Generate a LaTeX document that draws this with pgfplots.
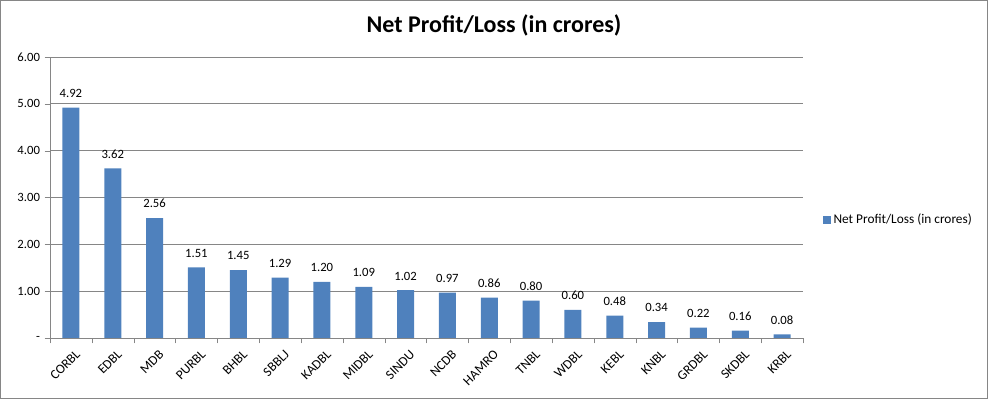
\documentclass[border=0pt]{standalone}
\usepackage{pgfplots}
\pgfplotsset{compat=1.18}
\usepackage{fontspec}
\setmainfont{Carlito}
\definecolor{barblue}{HTML}{4F81BD}
\definecolor{gridgray}{HTML}{868686}
\begin{document}
\begin{tikzpicture}
\useasboundingbox (0pt,0pt) rectangle (741pt,299.25pt);
\draw[gridgray, line width=0.75pt] (0.375pt,0.375pt) rectangle (740.625pt,298.875pt);
\node[font=\fontsize{18}{20}\selectfont\bfseries] at (370.5pt,280pt) {Net Profit/Loss (in crores)};
\begin{axis}[
  at={(37.5pt,45.75pt)}, anchor=south west,
  scale only axis, width=564.75pt, height=210.75pt,
  xmin=-0.5, xmax=17.5, ymin=0, ymax=6,
  axis lines=left, axis line style={-, gridgray},
  ybar, bar width=12.75pt,
  xtick={0,...,17},
  xticklabels={CORBL,EDBL,MDB,PURBL,BHBL,SBBLJ,KADBL,MIDBL,SINDU,NCDB,HAMRO,TNBL,WDBL,KEBL,KNBL,GRDBL,SKDBL,KRBL},
  major x tick style={draw=none},
  minor xtick={-0.5,0.5,...,17.5},
  minor x tick style={gridgray},
  minor tick length=4pt,
  x tick label style={rotate=45, anchor=north east, inner sep=1pt, yshift=-4pt, font=\fontsize{10}{12}\selectfont},
  ytick={0,1,2,3,4,5,6},
  yticklabels={{-},{1.00},{2.00},{3.00},{4.00},{5.00},{6.00}},
  ymajorgrids, grid style={gridgray, line width=0.6pt},
  major y tick style={gridgray},
  major tick length=4pt,
  tick align=outside,
  y tick label style={font=\fontsize{9.5}{11}\selectfont},
  tick label style={text=black},
  nodes near coords,
  every node near coord/.append style={font=\fontsize{9.5}{11}\selectfont, text=black, /pgf/number format/assume math mode=true, /pgf/number format/fixed, /pgf/number format/fixed zerofill, /pgf/number format/precision=2, yshift=4pt},
  legend style={at={(1,0.42)}, anchor=west, xshift=12pt, draw=none, fill=none, font=\fontsize{10}{12}\selectfont, legend cell align=left},
  legend image code/.code={\fill[barblue] (0cm,-0.1cm) rectangle (0.2cm,0.1cm);},
]
\addplot[fill=barblue, draw=none] coordinates {
(0,4.92) (1,3.62) (2,2.56) (3,1.51) (4,1.45) (5,1.29) (6,1.20) (7,1.09) (8,1.02)
(9,0.97) (10,0.86) (11,0.80) (12,0.60) (13,0.48) (14,0.34) (15,0.22) (16,0.16) (17,0.08)};
\addlegendentry{Net Profit/Loss (in crores)}
\end{axis}
\end{tikzpicture}
\end{document}
